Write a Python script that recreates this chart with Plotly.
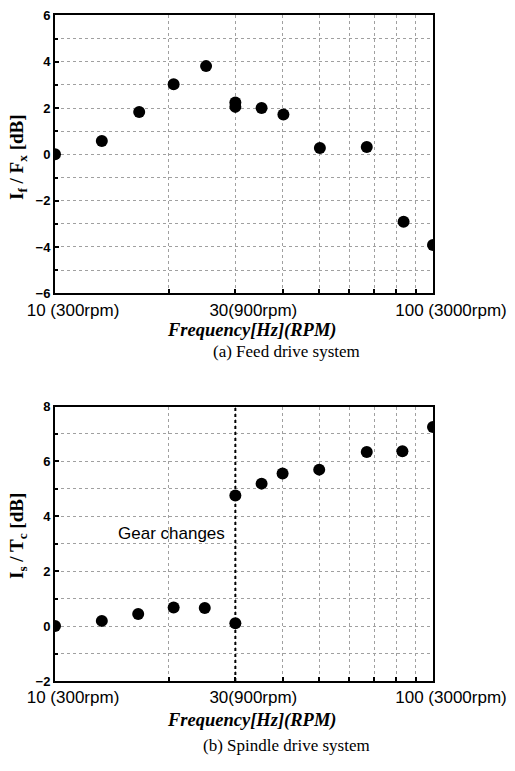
import math
import plotly.graph_objects as go

W, H = 515, 771

# ---- data ----
feed_freq = [10, 13.3, 16.7, 20.6, 25.1, 30, 30, 35.2, 40.2, 50.2, 66.8, 83.6, 100]
feed_db = [0.0, 0.58, 1.83, 3.03, 3.81, 2.24, 2.05, 2.0, 1.72, 0.27, 0.32, -2.91, -3.91]

spindle_freq = [10, 13.3, 16.6, 20.6, 24.9, 30, 30, 35.2, 40, 50, 66.8, 83, 100]
spindle_db = [0.0, 0.19, 0.44, 0.68, 0.66, 0.1, 4.76, 5.19, 5.56, 5.7, 6.34, 6.37, 7.25]

gear_change_freq = 30
x_tickvals = [10, 30, 100]
x_ticktext = ["10 (300rpm)", "30(900rpm)", "100 (3000rpm)"]
x_minorvals = [20, 40, 50, 60, 70, 80, 90]


def px_x(p):
    return p / W


def px_y(p):
    return 1 - p / H


fig = go.Figure()

marker = dict(color="black", size=12, line=dict(width=0))
fig.add_trace(go.Scatter(x=feed_freq, y=feed_db, mode="markers", marker=marker,
                         xaxis="x", yaxis="y", showlegend=False))
fig.add_trace(go.Scatter(x=[gear_change_freq, gear_change_freq], y=[-2, 8],
                         mode="lines", line=dict(color="black", width=2, dash="dot"),
                         xaxis="x2", yaxis="y2", showlegend=False))
fig.add_trace(go.Scatter(x=spindle_freq, y=spindle_db, mode="markers", marker=marker,
                         xaxis="x2", yaxis="y2", showlegend=False))

gridc = "#a0a0a0"
common = dict(showline=True, linecolor="black", linewidth=2, mirror=True,
              ticks="inside", ticklen=4, tickcolor="black", tickwidth=1.5,
              zeroline=False, automargin=False,
              showgrid=True, gridcolor=gridc, griddash="dot", gridwidth=1)

xdom = [px_x(55), px_x(433)]
xcommon = dict(type="log", range=[1, 2], domain=xdom, tickmode="array",
               tickvals=x_tickvals, ticktext=x_ticktext,
               tickfont=dict(family="Liberation Sans, Arial", size=17, color="black"),
               ticklabelshift=18,
               minor=dict(tickvals=x_minorvals, ticks="inside", ticklen=4, tickcolor="black",
                          showgrid=True, gridcolor=gridc, griddash="dot", gridwidth=1),
               **common)

ycommon = dict(tickfont=dict(family="Liberation Sans, Arial", size=13, color="black", weight="bold"),
               dtick=2, tick0=0,
               minor=dict(dtick=1, ticks="inside", ticklen=3, tickcolor="black",
                          showgrid=True, gridcolor=gridc, griddash="dot", gridwidth=1),
               **common)

fig.update_layout(
    width=W, height=H, margin=dict(l=0, r=0, t=0, b=0),
    paper_bgcolor="white", plot_bgcolor="white",
    xaxis=dict(anchor="y", **xcommon),
    yaxis=dict(anchor="x", domain=[px_y(293.3), px_y(15.4)], range=[-6, 6], **ycommon),
    xaxis2=dict(anchor="y2", **xcommon),
    yaxis2=dict(anchor="x2", domain=[px_y(681), px_y(406.5)], range=[-2, 8], **ycommon),
)

tb = dict(family="Liberation Serif, Times New Roman", color="black")
ann = [
    dict(text="<b><i>Frequency[Hz](RPM)</i></b>", x=px_x(252), y=px_y(330), font=dict(size=18.5, **tb)),
    dict(text="(a) Feed drive system", x=px_x(286), y=px_y(352), font=dict(size=17, **tb)),
    dict(text="<b><i>Frequency[Hz](RPM)</i></b>", x=px_x(252), y=px_y(720), font=dict(size=18.5, **tb)),
    dict(text="(b) Spindle drive system", x=px_x(286), y=px_y(745), font=dict(size=17, **tb)),
    dict(text="<b>I<sub>f</sub> / F<sub>x</sub> [dB]</b>", x=px_x(18), y=px_y(157), textangle=-90,
         font=dict(size=19, **tb)),
    dict(text="<b>I<sub>s</sub> / T<sub>c</sub> [dB]</b>", x=px_x(18), y=px_y(536), textangle=-90,
         font=dict(size=19, **tb)),
]
for a in ann:
    a.update(xref="paper", yref="paper", showarrow=False, xanchor="center", yanchor="middle")
    fig.add_annotation(**a)

fig.add_annotation(text="Gear changes", xref="x2", yref="y2", x=1 + (171 - 55) / 378, y=3.37,
                   showarrow=False, font=dict(family="Liberation Sans, Arial", size=17, color="black"))

fig.write_html("out.html")
